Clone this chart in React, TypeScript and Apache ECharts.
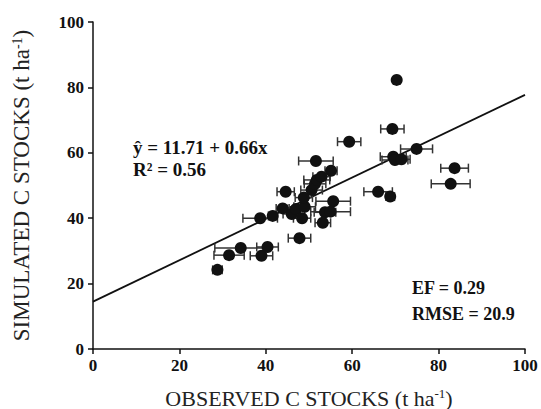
import React, { useEffect, useRef } from "react";
import * as echarts from "echarts";

const observed = [28.8, 31.5, 34.2, 39.0, 40.4, 38.7, 41.6, 43.9, 44.6, 46.0, 47.0, 47.8, 48.4, 49.0, 48.8, 50.6, 51.4, 51.8, 52.9, 51.6, 55.1, 55.6, 53.7, 55.0, 53.2, 59.3, 66.0, 68.8, 69.3, 70.3, 69.5, 69.9, 71.4, 74.9, 83.7, 82.8];
const simulated = [24.2, 28.7, 30.9, 28.5, 31.2, 40.0, 40.7, 43.0, 48.1, 41.3, 42.8, 33.9, 40.0, 43.5, 46.3, 48.6, 50.5, 51.7, 52.7, 57.5, 54.5, 45.2, 41.8, 42.0, 38.6, 63.4, 48.1, 46.6, 67.3, 82.3, 58.8, 57.8, 58.0, 61.2, 55.3, 50.5];
const observedErr = [1.1, 3.5, 6, 2.6, 2.5, 4, 1, 1.5, 2, 2, 2, 2.6, 2, 2.5, 2, 2.5, 2.5, 3, 2, 4, 1.4, 4, 2.5, 4.6, 1.8, 2.7, 3.3, 1, 2.7, 0, 3, 3, 2, 3.7, 3.2, 4.5];
const fitX = [0, 100];
const fitY = [14.5, 77.7];
const axisTicks = [0, 20, 40, 60, 80, 100];

const FONT = "'Liberation Serif', 'Times New Roman', serif";

export default function App() {
  const ref = useRef<HTMLDivElement>(null);
  useEffect(() => {
    if (!ref.current) return;
    const chart = echarts.init(ref.current, null, { renderer: "svg" });
    const axisCommon = {
      min: axisTicks[0],
      max: axisTicks[axisTicks.length - 1],
      interval: axisTicks[1] - axisTicks[0],
      splitLine: { show: false },
      axisLine: { show: true, lineStyle: { color: "#111", width: 1.5 } },
      axisTick: { show: true, length: 5, lineStyle: { color: "#111", width: 1.5 } },
      nameLocation: "middle" as const,
    };
    const mkRich = (size: number) => ({
      n: { fontFamily: FONT, fontSize: size, color: "#222" },
      s: { fontFamily: FONT, fontSize: Math.round(size * 0.6), color: "#222", verticalAlign: "top" as const },
    });
    const labelStyle = { fontFamily: FONT, fontSize: 17, fontWeight: 700, color: "#111" };
    chart.setOption({
      animation: false,
      grid: { left: 93, right: 16, top: 22, bottom: 60, containLabel: false, outerBoundsMode: "none" },
      xAxis: {
        type: "value",
        ...axisCommon,
        axisLabel: { ...labelStyle, margin: 8 },
        name: "{n|OBSERVED C STOCKS (t ha}{s|-1}{n|)}",
        nameGap: 38,
        nameTextStyle: { rich: mkRich(22) },
      },
      yAxis: {
        type: "value",
        ...axisCommon,
        axisLabel: { ...labelStyle, margin: 9 },
        name: "{n|SIMULATED C STOCKS (t ha}{s|-1}{n|)}",
        nameGap: 60,
        nameTextStyle: { rich: mkRich(23) },
      },
      series: [
        {
          type: "line",
          data: fitX.map((x, i) => [x, fitY[i]]),
          symbol: "none",
          lineStyle: { color: "#111", width: 1.8 },
          z: 1,
        },
        {
          type: "custom",
          data: observed.map((x, i) => [x, simulated[i], observedErr[i]]),
          z: 2,
          renderItem: (params: any, api: any) => {
            const x = api.value(0);
            const y = api.value(1);
            const e = api.value(2);
            if (!e) return { type: "group", children: [] };
            const l = api.coord([x - e, y]);
            const r = api.coord([x + e, y]);
            const h = 4.5;
            const style = { stroke: "#333", lineWidth: 1.5 };
            return {
              type: "group",
              children: [
                { type: "line", shape: { x1: l[0], y1: l[1], x2: r[0], y2: r[1] }, style },
                { type: "line", shape: { x1: l[0], y1: l[1] - h, x2: l[0], y2: l[1] + h }, style },
                { type: "line", shape: { x1: r[0], y1: r[1] - h, x2: r[0], y2: r[1] + h }, style },
              ],
            };
          },
        },
        {
          type: "scatter",
          data: observed.map((x, i) => [x, simulated[i]]),
          symbol: "circle",
          symbolSize: 12,
          itemStyle: { color: "#111", opacity: 1 },
          z: 3,
        },
      ],
      graphic: [
        {
          type: "text",
          left: 133,
          top: 138,
          style: { text: "ŷ = 11.71 + 0.66x", fontFamily: FONT, fontSize: 19, fontWeight: 700, fill: "#111" },
        },
        {
          type: "text",
          left: 133,
          top: 160,
          style: { text: "R² = 0.56", fontFamily: FONT, fontSize: 19, fontWeight: 700, fill: "#111" },
        },
        {
          type: "text",
          left: 412,
          top: 279,
          style: { text: "EF = 0.29", fontFamily: FONT, fontSize: 18, fontWeight: 700, fill: "#111" },
        },
        {
          type: "text",
          left: 412,
          top: 305,
          style: { text: "RMSE = 20.9", fontFamily: FONT, fontSize: 18, fontWeight: 700, fill: "#111" },
        },
      ],
    });
    return () => chart.dispose();
  }, []);
  return <div ref={ref} style={{ width: 541, height: 409, position: "absolute", left: 0, top: 0 }} />;
}
